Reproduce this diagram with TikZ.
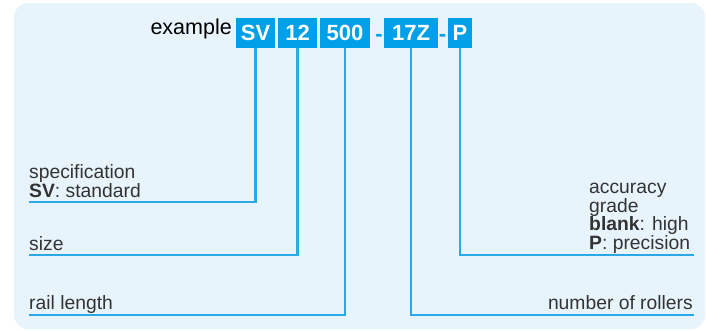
\documentclass[tikz,border=0pt]{standalone}
\usepackage{fontspec}
\setmainfont{Liberation Sans}
\definecolor{bgblue}{HTML}{E8F4FC}
\definecolor{boxblue}{HTML}{00A0E8}
\definecolor{lineblue}{HTML}{2AA9E6}
\definecolor{txt}{HTML}{333333}
\begin{document}
\begin{tikzpicture}[x=1pt,y=-1pt,
  codebox/.style={fill=boxblue, text=white, font=\fontsize{22}{22}\selectfont\bfseries, minimum height=30, inner sep=0},
  dashmark/.style={text=boxblue, font=\fontsize{22}{22}\selectfont\bfseries, inner sep=0},
  lbl/.style={text=txt, font=\fontsize{19.3}{19.4}\selectfont, inner sep=0, align=left},
  lead/.style={draw=lineblue, line width=2.1}]
\useasboundingbox (0,0) rectangle (706,330);
\fill[bgblue, rounded corners=14] (14,3) rectangle (705,329);
% example label
\node[text=black, font=\fontsize{21.5}{22}\selectfont, inner sep=0, anchor=base east] (ex) at (232,34) {example};
% code boxes
\node[codebox, minimum width=39] (sv) at (255.5,33) {SV};
\node[codebox, minimum width=39] (s12) at (297.5,33) {12};
\node[codebox, minimum width=50] (s500) at (345,33) {500};
\node[dashmark, anchor=base] (d1) at (379,41) {-};
\node[codebox, minimum width=54] (s17z) at (411,33) {17Z};
\node[dashmark, anchor=base] (d2) at (442.5,41) {-};
\node[codebox, minimum width=24] (sp) at (460,33) {P};
% end coordinates
\coordinate (specL) at (29,202);
\coordinate (sizeL) at (29,255);
\coordinate (railL) at (29,315);
\coordinate (accR) at (694,255);
\coordinate (rolR) at (694,315);
% leaders
\draw[lead] (sv.south) |- (specL);
\draw[lead] (s12.south) |- (sizeL);
\draw[lead] (s500.south) |- (railL);
\draw[lead] (s17z.south) |- (rolR);
\draw[lead] (sp.south) |- (accR);
% labels (base = baseline of last line)
\node[lbl, anchor=base west] (specT) at (29,197.7) {specification\\\textbf{SV}: standard};
\node[lbl, anchor=base west] (sizeT) at (29,250) {size};
\node[lbl, anchor=base west] (railT) at (29,309.3) {rail length};
\node[lbl, anchor=base west, font=\fontsize{19.3}{18.5}\selectfont] (accT) at (589,249.3) {accuracy\\grade\\\textbf{blank}: high\\\textbf{P}: precision};
\node[lbl, anchor=base east] (rolT) at (693,309.3) {number of rollers};
\end{tikzpicture}
\end{document}
